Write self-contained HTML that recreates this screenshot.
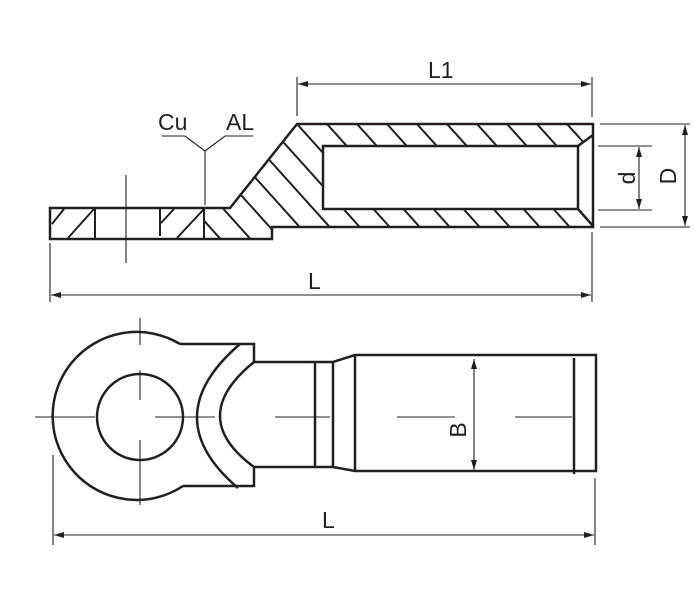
<!DOCTYPE html>
<html><head><style>html,body{margin:0;padding:0;background:#fff}svg{display:block}</style></head>
<body>
<svg width="694" height="606" viewBox="0 0 694 606" xmlns="http://www.w3.org/2000/svg" font-family="Liberation Sans, sans-serif">
<defs>
<marker id="a" viewBox="0 0 10 6" refX="10" refY="3" markerWidth="10" markerHeight="6" orient="auto-start-reverse" markerUnits="userSpaceOnUse"><path d="M0,0 L10,3 L0,6 z" fill="#231f20"/></marker>
<clipPath id="al"><path d="M204,208 L230,208 L297,124 L593,124 L593,227 L272,227 L272,239 L204,239 Z M323,146 L578,146 L593,135 L593,226 L578,209 L323,209 Z" clip-rule="evenodd"/></clipPath>
</defs>
<g stroke="#231f20" fill="none">
<g clip-path="url(#al)" stroke-width="2">
<line x1="57" y1="124" x2="192" y2="274"/><line x1="87" y1="124" x2="222" y2="274"/><line x1="117" y1="124" x2="252" y2="274"/><line x1="147" y1="124" x2="282" y2="274"/><line x1="177" y1="124" x2="312" y2="274"/><line x1="207" y1="124" x2="342" y2="274"/><line x1="237" y1="124" x2="372" y2="274"/><line x1="267" y1="124" x2="402" y2="274"/><line x1="297" y1="124" x2="432" y2="274"/><line x1="327" y1="124" x2="462" y2="274"/><line x1="357" y1="124" x2="492" y2="274"/><line x1="387" y1="124" x2="522" y2="274"/><line x1="417" y1="124" x2="552" y2="274"/><line x1="447" y1="124" x2="582" y2="274"/><line x1="477" y1="124" x2="612" y2="274"/><line x1="507" y1="124" x2="642" y2="274"/><line x1="537" y1="124" x2="672" y2="274"/><line x1="567" y1="124" x2="702" y2="274"/>
</g>
<g stroke-width="2">
<line x1="52" y1="224" x2="64" y2="209"/><line x1="68" y1="238" x2="94" y2="209"/><line x1="161" y1="223" x2="174" y2="209"/><line x1="176" y1="239" x2="204" y2="209"/>
<line x1="95" y1="208" x2="95" y2="239"/><line x1="160" y1="208" x2="160" y2="236"/><line x1="204" y1="208" x2="204" y2="239"/>
</g>
<path d="M50,208 L230,208 L297,124 L593,124 L593,227 L272,227 L272,239 L50,239 Z" stroke-width="2.5"/>
<path d="M323,146 L578,146 L578,209 L323,209 Z M578,146 L593,135 M578,209 L593,226" stroke-width="2.5"/>
<g stroke-width="1.1">
<line x1="126" y1="175" x2="126" y2="263"/>
<path d="M162,136 L185,136 L205,151 L225,136 L253,136 M205,151 L205,205"/>
<line x1="297" y1="77" x2="297" y2="116"/><line x1="592" y1="77" x2="592" y2="117"/>
<line x1="298" y1="84" x2="591" y2="84" marker-start="url(#a)" marker-end="url(#a)"/>
<line x1="598" y1="146" x2="652" y2="146"/><line x1="598" y1="210" x2="652" y2="210"/>
<line x1="639" y1="147" x2="639" y2="209" marker-start="url(#a)" marker-end="url(#a)"/>
<line x1="600" y1="124" x2="690" y2="124"/><line x1="600" y1="227" x2="690" y2="227"/>
<line x1="685" y1="125" x2="685" y2="226" marker-start="url(#a)" marker-end="url(#a)"/>
<line x1="50" y1="243" x2="50" y2="302"/><line x1="592" y1="232" x2="592" y2="302"/>
<line x1="51" y1="295" x2="591" y2="295" marker-start="url(#a)" marker-end="url(#a)"/>
</g>
<g stroke-width="2.5">
<path d="M180,344 A84,84 0 1 0 183,486"/>
<path d="M180,344 L254,344 L254,362 L333,362 L355,355 L596,355 L596,471 L355,471 L333,467 L254,467 L254,486 L183,486"/>
<circle cx="140" cy="417" r="43"/>
<path d="M240,344 Q155,417 238,488"/>
<path d="M254,362 Q186,417 254,467"/>
<line x1="315" y1="362" x2="315" y2="467"/><line x1="333" y1="362" x2="333" y2="467"/>
<line x1="355" y1="355" x2="355" y2="471"/>
<line x1="574" y1="358" x2="574" y2="474"/>
</g>
<g stroke-width="1.1">
<path d="M35,417 H95 M155,417 H215 M275,417 H330 M397,417 H455 M515,417 H572"/>
<path d="M140,318 V345 M140,370 V400 M140,440 V505"/>
<line x1="474" y1="359" x2="474" y2="470" marker-start="url(#a)" marker-end="url(#a)"/>
<line x1="53" y1="455" x2="53" y2="545"/><line x1="595" y1="478" x2="595" y2="545"/>
<line x1="54" y1="535" x2="594" y2="535" marker-start="url(#a)" marker-end="url(#a)"/>
</g>
</g>
<g fill="#231f20" font-size="23">
<text x="158" y="130">Cu</text>
<text x="226" y="130">AL</text>
<text x="428" y="78">L1</text>
<text x="308" y="289">L</text>
<text x="322" y="528">L</text>
<text transform="translate(635,178) rotate(-90)" text-anchor="middle">d</text>
<text transform="translate(676,176) rotate(-90)" text-anchor="middle">D</text>
<text transform="translate(466,430) rotate(-90)" text-anchor="middle">B</text>
</g>
</svg>
</body></html>
